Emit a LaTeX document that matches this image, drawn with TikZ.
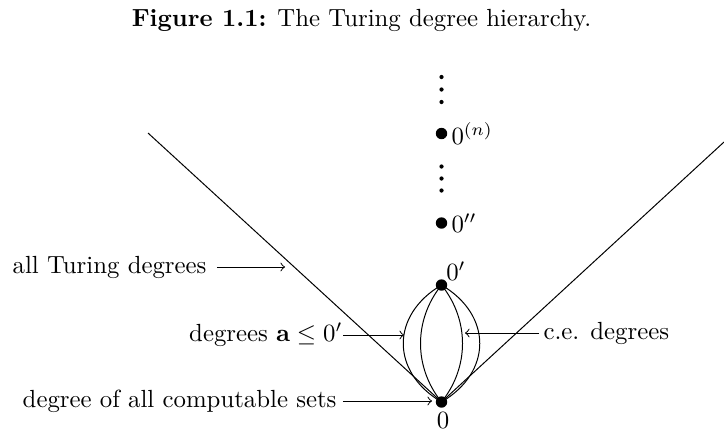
\documentclass[tikz,border=0pt]{standalone}
\begin{document}
\begin{tikzpicture}[x=0.4032pt,y=-0.4032pt,
  bigdot/.style={circle,fill=black,inner sep=0pt,minimum size=4.6pt},
  smalldot/.style={circle,fill=black,inner sep=0pt,minimum size=1.7pt},
  lbl/.style={inner sep=0pt},
  arr/.style={->}]
\useasboundingbox (0,0) rectangle (724,431);
\node[anchor=base] (cap) at (361.5,26) {\textbf{Figure 1.1:} The Turing degree hierarchy.};
% degree dots
\node[bigdot] (z) at (441.5,402) {};
\node[bigdot] (zp) at (441.5,285) {};
\node[bigdot] (zpp) at (441.5,223) {};
\node[bigdot] (zn) at (441.5,133.5) {};
\foreach \i/\yy in {1/77,2/89.5,3/102,4/166.5,5/178.5,6/190.5}
  \node[smalldot] (v\i) at (441.5,\yy) {};
% degree labels
\node[lbl] (lz) at (443,420) {$0$};
\node[lbl] (lzp) at (456,271) {$0'$};
\node[lbl,anchor=west] (lzpp) at (451,223) {$0''$};
\node[lbl,anchor=west] (lzn) at (451,133.5) {$0^{(n)}$};
% cone
\coordinate (L) at (148,133);
\coordinate (R) at (724,142);
\draw (L) -- (z.center) -- (R);
% lens
\draw (zp.center) .. controls +(-51,30) and +(-51,-30) .. (z.center);
\draw (zp.center) .. controls +(-28,35) and +(-28,-35) .. (z.center);
\draw (zp.center) .. controls +(28,35) and +(28,-35) .. (z.center);
\draw (zp.center) .. controls +(51,30) and +(51,-30) .. (z.center);
% annotations
\node[lbl,anchor=east] (t1) at (207,267) {all Turing degrees};
\coordinate (t1e) at (285,267);
\draw[arr,shorten <=4pt] (t1.east) -- (t1e);
\node[lbl,anchor=east] (t2) at (343,335) {degrees $\mathbf{a}\leq 0'$};
\coordinate (t2e) at (404,335);
\draw[arr] (t2.east) -- (t2e);
\node[lbl,anchor=west] (t3) at (543,333) {c.e. degrees};
\coordinate (t3e) at (465,333);
\draw[arr,shorten <=1.6pt] (t3.west) -- (t3e);
\node[lbl,anchor=east] (t4) at (337,401) {degree of all computable sets};
\coordinate (t4e) at (432,401);
\draw[arr,shorten <=2.4pt] (t4.east) -- (t4e);
\end{tikzpicture}
\end{document}
